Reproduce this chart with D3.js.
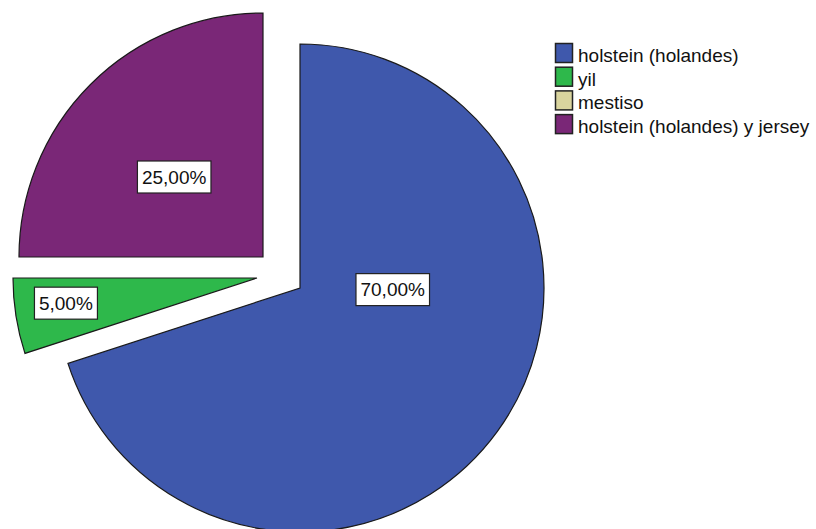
<!DOCTYPE html>
<html>
<head>
<meta charset="utf-8">
<script src="https://cdn.jsdelivr.net/npm/d3@7/dist/d3.min.js"></script>
<style>
  html, body { margin: 0; padding: 0; background: #fff; }
  svg { display: block; }
  text { font-family: "Liberation Sans", Arial, sans-serif; }
</style>
</head>
<body>
<svg id="chart" width="816" height="529"></svg>
<script>
// Breed distribution (percent of herd)
const categories = ["holstein (holandes)", "yil", "mestiso", "holstein (holandes) y jersey"];
const percents = [70, 5, 0, 25];
const percentLabels = ["70,00%", "5,00%", "0,00%", "25,00%"];

// Presentation settings
const colors = ["#3f58ac", "#2eb84b", "#d9d49e", "#7a2777"];
const center = { x: 300, y: 288 };
const radius = 244;
// Pull-out of exploded slices, in pixels
const explode = [[0, 0], [-43, -10], [0, 0], [-37, -31]];
// Label position per slice: angle (deg, clockwise from top) and fraction of radius
const labelPolar = [[91, 0.38], [262.5, 0.79], [0, 0], [312, 0.49]];

const svg = d3.select("#chart");
const color = d3.scaleOrdinal().domain(categories).range(colors);

const rows = categories.map((c, i) => ({ cat: c, value: percents[i], label: percentLabels[i], i }));
const pie = d3.pie().sort(null).value(d => d.value).startAngle(0).endAngle(2 * Math.PI);
const arc = d3.arc().innerRadius(0).outerRadius(radius);
const arcs = pie(rows).filter(d => d.data.value > 0);

const g = svg.append("g").attr("transform", `translate(${center.x},${center.y})`);

const slice = g.selectAll("g.slice").data(arcs).join("g")
  .attr("class", "slice")
  .attr("transform", d => `translate(${explode[d.data.i][0]},${explode[d.data.i][1]})`);

slice.append("path")
  .attr("d", arc)
  .attr("fill", d => color(d.data.cat))
  .attr("stroke", "#1a1a1a")
  .attr("stroke-width", 1.2)
  .attr("stroke-linejoin", "miter");

// Value labels in white boxes
slice.each(function(d) {
  const [deg, frac] = labelPolar[d.data.i];
  const a = deg * Math.PI / 180;
  const x = Math.sin(a) * radius * frac;
  const y = -Math.cos(a) * radius * frac;
  const sel = d3.select(this).append("g").attr("transform", `translate(${x},${y})`);
  const t = sel.append("text")
    .attr("text-anchor", "middle")
    .attr("dy", "0.35em")
    .attr("font-size", 19)
    .attr("fill", "#111")
    .text(d.data.label);
  const bb = t.node().getBBox();
  sel.insert("rect", "text")
    .attr("x", bb.x - 4.5)
    .attr("y", -16)
    .attr("width", bb.width + 9)
    .attr("height", 32)
    .attr("fill", "#fff")
    .attr("stroke", "#222")
    .attr("stroke-width", 1.2);
});

// Legend
const legend = svg.append("g").attr("transform", "translate(555,43)");
const item = legend.selectAll("g").data(categories).join("g")
  .attr("transform", (d, i) => `translate(0,${i * 23.7})`);
item.append("rect")
  .attr("x", 0.5).attr("y", 0.5)
  .attr("width", 17).attr("height", 19)
  .attr("fill", d => color(d))
  .attr("stroke", "#222")
  .attr("stroke-width", 1.5);
item.append("text")
  .attr("x", 23)
  .attr("y", 19)
  .attr("font-size", 19)
  .attr("fill", "#111")
  .text(d => d);
</script>
</body>
</html>
